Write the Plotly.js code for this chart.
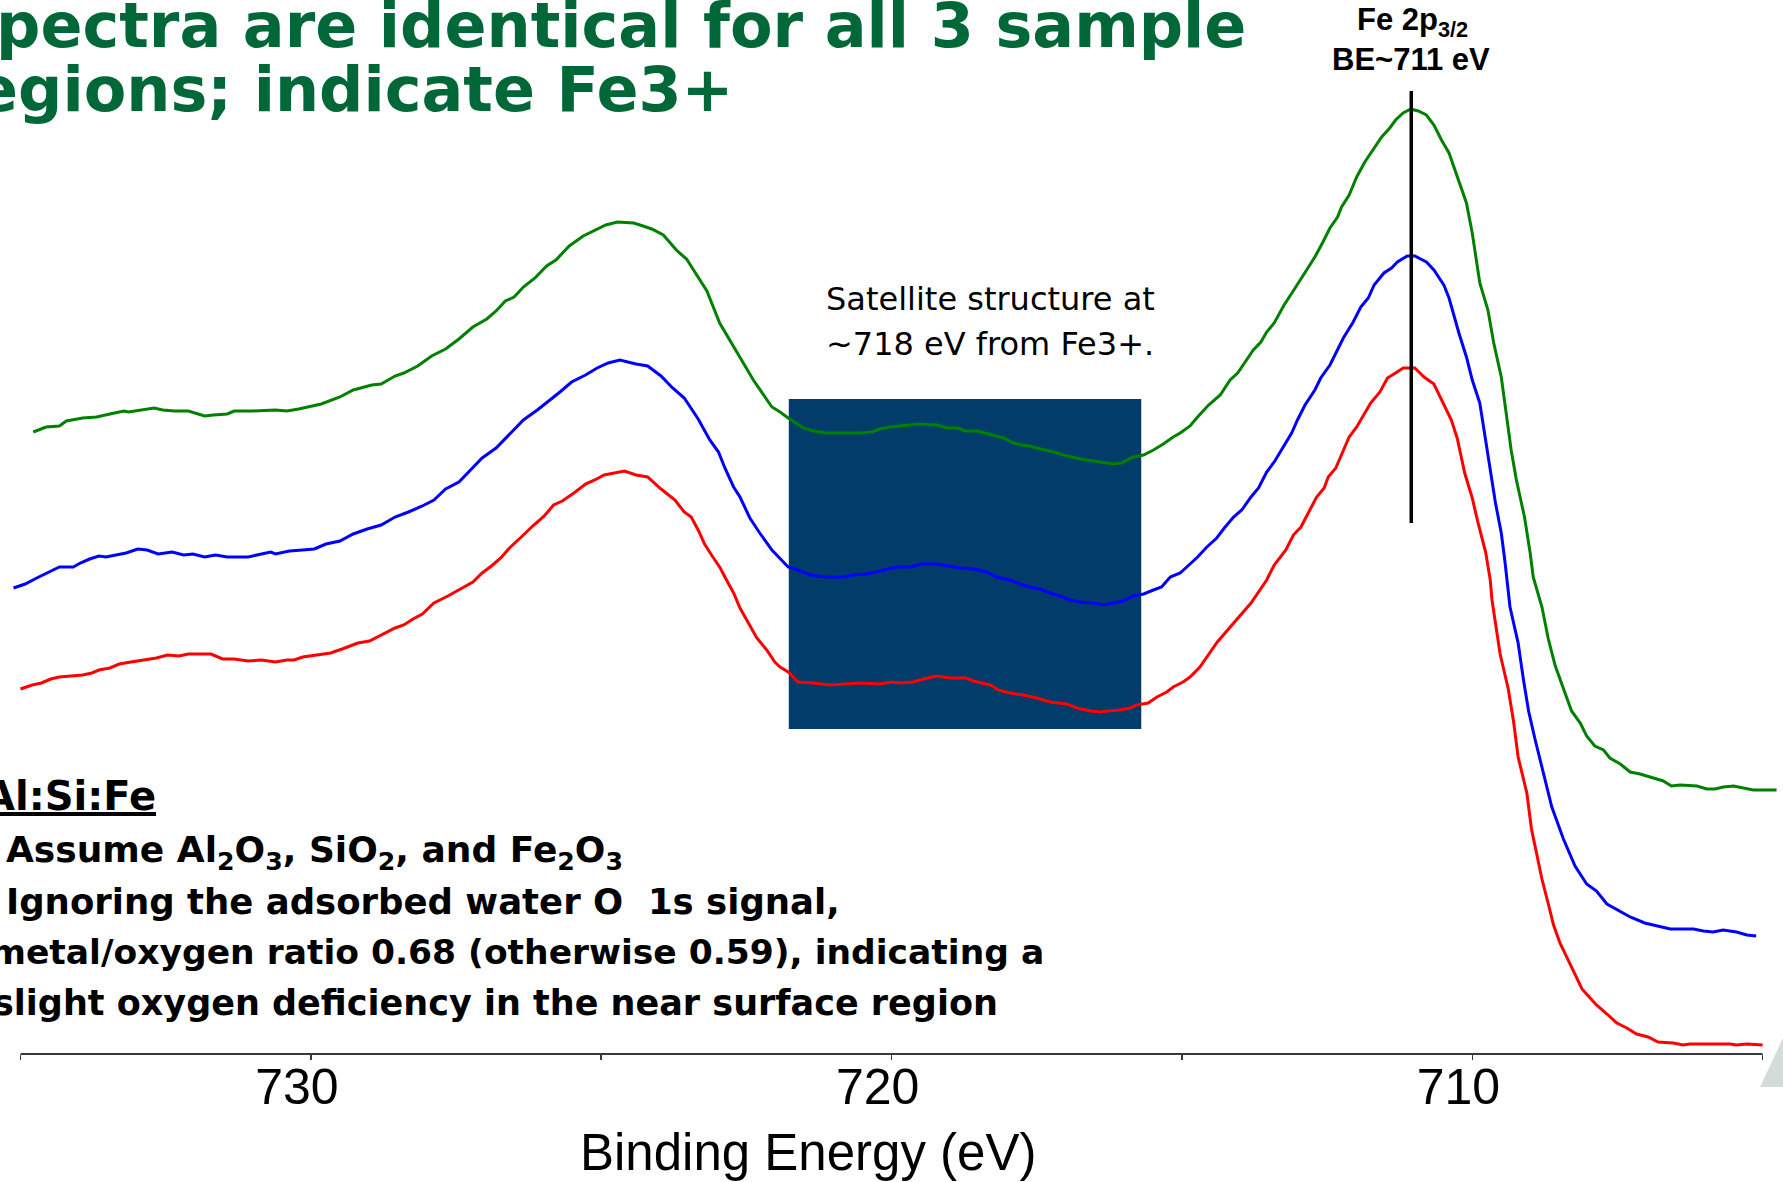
<!DOCTYPE html>
<html><head><meta charset="utf-8">
<script src="https://cdn.plot.ly/plotly-3.0.1.min.js"></script>
<style>html,body{margin:0;padding:0;background:#fff;overflow:hidden}#chart{width:1783px;height:1182px}</style>
</head><body><div id="chart"></div>
<script>
// Binding energy (eV) and intensity (arbitrary units)
const greenBE = [734.78,734.56,734.33,734.21,733.93,733.69,733.46,733.22,733.14,732.90,
732.70,732.55,732.35,732.11,731.83,731.68,731.44,731.32,731.00,730.61,
730.41,730.21,729.82,729.50,729.27,728.95,728.79,728.55,728.40,728.16,
727.92,727.68,727.45,727.21,726.97,726.81,726.65,726.50,726.34,726.14,
725.94,725.78,725.55,725.31,725.07,724.92,724.72,724.44,724.28,724.13,
723.93,723.69,723.53,723.33,723.18,722.96,722.38,722.06,721.92,721.78,
721.52,721.35,721.12,720.54,720.34,720.20,720.03,719.85,719.54,719.22,
719.05,718.85,718.73,718.53,718.25,718.07,717.90,717.76,717.62,717.50,
717.21,717.04,716.75,716.53,716.35,716.18,716.04,715.84,715.66,715.49,
715.32,715.15,715.03,714.86,714.73,714.54,714.34,714.17,714.04,713.91,
713.77,713.64,713.54,713.41,713.24,713.05,712.88,712.71,712.58,712.45,
712.32,712.25,712.12,711.99,711.85,711.69,711.56,711.42,711.32,711.19,
711.06,710.93,710.79,710.66,710.53,710.40,710.33,710.23,710.10,710.00,
709.87,709.73,709.63,709.50,709.40,709.33,709.24,709.10,709.00,708.95,
708.80,708.69,708.57,708.43,708.29,708.14,708.03,707.89,707.74,707.63,
707.45,707.28,707.11,706.88,706.71,706.57,706.42,706.13,705.96,705.82,
705.68,705.50,705.33,705.16,704.76];
const greenI = [622,627,628,633,636,637,640,643,642,644,
646,644,643,643,638,639,640,643,643,644,
643,645,650,657,664,669,670,678,681,688,
698,705,715,727,735,743,753,757,767,776,
788,794,808,818,825,829,832,831,828,825,
819,803,795,776,763,731,674,647,642,636,
626,623,621,621,622,625,627,628,630,629,
626,626,623,623,619,616,611,609,608,606,
602,599,595,593,592,590,591,597,599,604,
610,617,621,628,637,649,659,674,681,692,
704,712,722,731,749,766,782,797,811,826,
837,847,859,877,892,906,917,926,934,941,
945,943,939,929,914,901,889,871,851,821,
771,744,711,677,637,604,574,537,500,477,
447,415,388,365,343,331,318,308,304,296,
290,282,280,276,273,268,269,268,265,265,
267,268,266,264,264];

const blueBE = [735.12,734.92,734.72,734.52,734.33,734.09,733.97,733.81,733.65,733.53,
733.34,733.18,732.98,732.82,732.63,732.39,732.19,732.03,731.83,731.64,
731.44,731.08,730.93,730.69,730.61,730.37,730.14,729.94,729.74,729.50,
729.27,729.03,728.79,728.55,728.32,728.08,727.88,727.68,727.45,727.21,
727.05,726.81,726.58,726.34,726.10,725.86,725.71,725.51,725.27,725.07,
724.88,724.68,724.40,724.20,723.97,723.77,723.57,723.33,723.13,722.98,
722.87,722.72,722.61,722.44,722.27,722.06,721.92,721.78,721.61,721.40,
721.12,720.83,720.66,720.43,720.28,720.08,719.91,719.68,719.48,719.22,
719.02,718.82,718.59,718.36,718.19,717.96,717.79,717.62,717.44,717.27,
717.10,716.93,716.75,716.53,716.35,716.18,716.01,715.84,715.66,715.49,
715.35,715.20,715.03,714.86,714.73,714.57,714.40,714.27,714.11,713.97,
713.81,713.68,713.54,713.41,713.24,713.11,713.01,712.88,712.71,712.61,
712.45,712.32,712.22,712.05,711.92,711.79,711.69,711.52,711.39,711.29,
711.12,710.99,710.79,710.66,710.49,710.40,710.33,710.23,710.10,710.00,
709.87,709.80,709.73,709.67,709.60,709.50,709.44,709.35,709.21,709.12,
709.03,708.92,708.78,708.63,708.43,708.23,708.03,707.86,707.68,707.45,
707.28,707.03,706.77,706.59,706.19,706.02,705.85,705.68,705.45,705.27,
705.11];
const blueI = [466,470,476,482,487,487,491,495,498,497,
499,501,505,504,500,502,499,500,497,499,
497,497,499,502,500,503,504,505,510,513,
520,525,529,537,542,548,554,565,572,586,
596,606,620,634,644,655,662,672,679,686,
691,694,690,688,678,666,656,635,614,602,
586,567,557,536,521,504,496,487,484,479,
477,477,479,480,482,485,487,487,490,490,
488,486,485,482,477,474,470,467,465,461,
458,454,452,451,449,451,453,458,460,464,
467,477,481,490,497,507,516,526,537,544,
557,566,582,592,609,621,634,649,664,676,
689,704,716,732,747,756,769,781,786,792,
798,798,792,784,769,756,741,721,697,674,
651,624,597,574,551,521,494,447,411,375,
343,315,283,247,215,188,170,163,150,143,
137,131,127,125,125,123,122,124,122,119,
118];

const redBE = [735.00,734.80,734.64,734.48,734.33,734.13,733.93,733.77,733.65,733.46,
733.30,733.10,732.86,732.66,732.47,732.27,732.11,731.72,731.52,731.32,
731.08,730.85,730.61,730.41,730.29,730.14,729.90,729.66,729.46,729.19,
728.99,728.79,728.55,728.40,728.24,728.08,727.88,727.64,727.45,727.21,
727.05,726.89,726.73,726.58,726.34,726.18,725.98,725.82,725.67,725.47,
725.27,725.11,724.95,724.76,724.60,724.40,724.20,723.97,723.73,723.57,
723.45,723.33,723.22,723.10,722.95,722.87,722.72,722.61,722.47,722.32,
722.15,722.01,721.92,721.78,721.61,721.35,721.06,720.83,720.54,720.20,
720.00,719.85,719.63,719.45,719.22,718.99,718.71,718.59,718.30,718.16,
717.96,717.73,717.50,717.27,717.16,716.98,716.81,716.58,716.41,716.29,
716.07,715.89,715.78,715.58,715.43,715.26,715.15,714.98,714.86,714.69,
714.39,713.81,713.54,713.41,713.21,713.08,712.95,712.81,712.68,712.55,
712.48,712.35,712.25,712.12,711.99,711.89,711.75,711.59,711.46,711.32,
711.19,710.99,710.83,710.66,710.49,710.36,710.26,710.13,710.00,709.90,
709.77,709.69,709.66,709.52,709.38,709.29,709.21,709.06,708.98,708.89,
708.80,708.69,708.60,708.49,708.37,708.26,708.11,707.97,707.86,707.68,
707.51,707.34,707.17,706.97,706.80,706.54,706.37,706.25,705.56,705.45,
705.27,705.00];
const redI = [365,369,371,375,377,378,379,381,384,386,
390,392,394,396,399,398,400,400,395,395,
393,394,392,394,394,397,399,401,405,411,
413,419,426,429,435,440,451,458,464,472,
481,488,496,506,519,528,538,549,553,561,
570,574,579,581,583,579,577,565,554,542,
537,524,510,499,486,477,461,446,432,416,
404,392,387,382,372,371,369,370,371,370,
372,371,372,375,378,376,376,373,369,364,
361,359,356,352,351,350,346,343,342,343,
344,346,349,351,357,362,367,372,377,387,
412,451,474,489,504,519,527,542,557,566,
577,586,599,617,627,637,651,662,676,681,
686,686,677,670,649,634,616,581,556,531,
502,474,454,400,365,333,297,261,225,200,
175,150,129,111,97,83,65,56,49,40,
31,26,20,17,12,11,9,10,10,9,
10,9];

const tickVals = [735,730,725,720,715,710,705];
const tickText = ['','730','','720','','710',''];
const satBoxBE = [721.77, 715.70];
const satBoxI = [325, 655];
const peakLineBE = 711.05;
const peakLineI = [531, 963];

const W = 1783, H = 1182;
const M = {l:10, r:5, t:0, b:128};
const PW = W - M.l - M.r, PH = H - M.t - M.b;
const px = x => (x - M.l) / PW;
const py = y => (M.t + PH - y) / PH;

const GREEN_T = '#006838';
const DJ = 'DejaVu Sans';
const LS = 'Liberation Sans, Arial, sans-serif';
const NB = '\u00a0';

function ann(text, x, y, xanchor, font) {
  return {text: text, xref:'paper', yref:'paper', x: px(x), y: py(y),
    xanchor: xanchor, yanchor:'middle', showarrow:false, align:'left',
    borderpad:0, font: font};
}
const titleFont = {family: DJ, size: 62, color: GREEN_T, weight: 700};
const bf = s => ({family: DJ, size: s, color: '#000', weight: 700});

const annotations = [
  ann('pectra are identical for all 3 sample', -5, 26, 'left', titleFont),
  ann('egions; indicate Fe3+', -25, 89, 'left', titleFont),
  ann('Fe 2p<sub>3/2</sub>', 1412, 22, 'center', {family: LS, size: 31, color:'#000', weight:700}),
  ann('BE~711 eV', 1411, 60, 'center', {family: LS, size: 31, color:'#000', weight:700}),
  ann('Satellite structure at', 825, 299, 'left', {family: DJ, size: 32, color:'#000'}),
  ann('~718 eV from Fe3+.', 825, 344, 'left', {family: DJ, size: 32, color:'#000'}),
  ann('<u>Al:Si:Fe</u>', -17, 796, 'left', bf(40)),
  ann('Assume Al<sub>2</sub>O<sub>3</sub>, SiO<sub>2</sub>, and Fe<sub>2</sub>O<sub>3</sub>', 5, 852, 'left', bf(36)),
  ann('Ignoring the adsorbed water O' + NB + ' 1s signal,', 5, 901, 'left', bf(35.5)),
  ann('metal/oxygen ratio 0.68 (otherwise 0.59), indicating a', -11, 952, 'left', bf(34.5)),
  ann('slight oxygen deficiency in the near surface region', -8, 1003, 'left', bf(35)),
  ann('Binding Energy (eV)', 808, 1152, 'center', {family: LS, size: 51, color:'#000'})
];

const shapes = [
  {type:'rect', xref:'x', yref:'y', x0: satBoxBE[0], x1: satBoxBE[1], y0: satBoxI[0], y1: satBoxI[1],
   fillcolor:'#013c6b', line:{width:0}, layer:'below'},
  {type:'line', xref:'x', yref:'y', x0: peakLineBE, x1: peakLineBE, y0: peakLineI[0], y1: peakLineI[1],
   line:{color:'#000', width:3.5}},
  {type:'line', xref:'x', yref:'paper', x0: tickVals[0], x1: tickVals[tickVals.length-1], y0: 0, y1: 0,
   line:{color:'#3a3a3a', width:2}},
  {type:'path', xref:'paper', yref:'paper',
   path: 'M ' + px(1783) + ',' + py(1038) + ' L ' + px(1760) + ',' + py(1087) + ' L ' + px(1783) + ',' + py(1087) + ' Z',
   fillcolor:'#d3dcd8', line:{width:0}}
];

function tr(x, y, c) {
  return {type:'scatter', mode:'lines', x:x, y:y, line:{color:c, width:3}, hoverinfo:'skip', showlegend:false};
}
const data = [tr(greenBE, greenI, '#008000'), tr(blueBE, blueI, '#0000ff'), tr(redBE, redI, '#ff0000')];

const PX_PER_EV = 58.07;
const xLeft = 735 + (20.5 - M.l) / PX_PER_EV;
const layout = {
  width: W, height: H, margin: {l:M.l, r:M.r, t:M.t, b:M.b, pad:0},
  paper_bgcolor:'#fff', plot_bgcolor:'rgba(0,0,0,0)', showlegend:false,
  xaxis: {range:[xLeft, xLeft - PW / PX_PER_EV],
    tickmode:'array', tickvals: tickVals, ticktext: tickText.map(t => t ? t + NB + NB : t),
    ticks:'outside', ticklen:5, tickwidth:1.5, tickcolor:'#3a3a3a',
    showline:false, showgrid:false, zeroline:false, fixedrange:true,
    tickfont:{family: LS, size:50, color:'#000'}, ticklabelstandoff: -16},
  yaxis: {range:[0, PH], visible:false, fixedrange:true},
  annotations: annotations, shapes: shapes
};
Plotly.newPlot('chart', data, layout, {displayModeBar:false, staticPlot:true});
</script></body></html>
